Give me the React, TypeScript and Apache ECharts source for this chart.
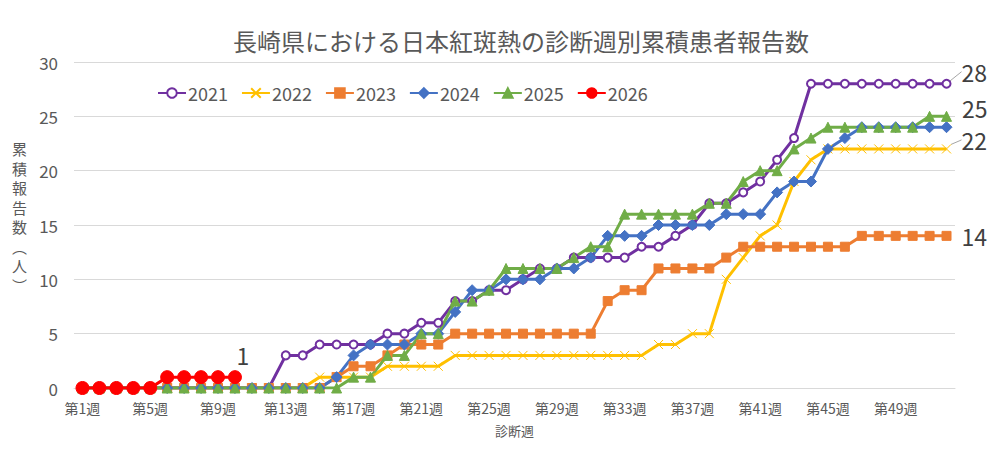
import React, { useEffect, useRef } from "react";
import * as echarts from "echarts";

const FONT = '"Noto Sans CJK JP", "Noto Sans", sans-serif';

const TITLE = "長崎県における日本紅斑熱の診断週別累積患者報告数";
const Y_NAME = "累\n積\n報\n告\n数\n︵\n人\n︶";
const X_NAME = "診断週";

const weeks: string[] = Array.from({ length: 52 }, (_, i) => `第${i + 1}週`);

const years = ["2021", "2022", "2023", "2024", "2025", "2026"];

const d2021 = [0, 0, 0, 0, 0, 0, 0, 0, 0, 0, 0, 0, 3, 3, 4, 4, 4, 4, 5, 5, 6, 6, 8, 8, 9, 9, 10, 11, 11, 12, 12, 12, 12, 13, 13, 14, 15, 17, 17, 18, 19, 21, 23, 28, 28, 28, 28, 28, 28, 28, 28, 28];
const d2022 = [0, 0, 0, 0, 0, 0, 0, 0, 0, 0, 0, 0, 0, 0, 1, 1, 1, 1, 2, 2, 2, 2, 3, 3, 3, 3, 3, 3, 3, 3, 3, 3, 3, 3, 4, 4, 5, 5, 10, 12, 14, 15, 19, 21, 22, 22, 22, 22, 22, 22, 22, 22];
const d2023 = [0, 0, 0, 0, 0, 0, 0, 0, 0, 0, 0, 0, 0, 0, 0, 1, 2, 2, 3, 4, 4, 4, 5, 5, 5, 5, 5, 5, 5, 5, 5, 8, 9, 9, 11, 11, 11, 11, 12, 13, 13, 13, 13, 13, 13, 13, 14, 14, 14, 14, 14, 14];
const d2024 = [0, 0, 0, 0, 0, 0, 0, 0, 0, 0, 0, 0, 0, 0, 0, 1, 3, 4, 4, 4, 5, 5, 7, 9, 9, 10, 10, 10, 11, 11, 12, 14, 14, 14, 15, 15, 15, 15, 16, 16, 16, 18, 19, 19, 22, 23, 24, 24, 24, 24, 24, 24];
const d2025 = [0, 0, 0, 0, 0, 0, 0, 0, 0, 0, 0, 0, 0, 0, 0, 0, 1, 1, 3, 3, 5, 5, 8, 8, 9, 11, 11, 11, 11, 12, 13, 13, 16, 16, 16, 16, 16, 17, 17, 19, 20, 20, 22, 23, 24, 24, 24, 24, 24, 24, 25, 25];
const d2026 = [0, 0, 0, 0, 0, 1, 1, 1, 1, 1];

const colors = ["#7030A0", "#FFC000", "#ED7D31", "#4472C4", "#70AD47", "#FF0000"];

const LABEL_COLOR = "#404040";

function buildData(values: number[], labelCfg: any) {
  return values.map((v, i) => {
    if (labelCfg && i === values.length - 1) {
      return {
        value: v,
        label: {
          show: true,
          color: LABEL_COLOR,
          fontFamily: FONT,
          fontSize: 23,
          ...labelCfg,
        },
      };
    }
    return v;
  });
}

function mkSeries(
  idx: number,
  values: number[],
  symbol: string,
  symbolSize: number,
  labelCfg: any,
  extra: any = {}
) {
  const color = colors[idx];
  return {
    name: years[idx],
    type: "line",
    data: buildData(values, labelCfg),
    symbol,
    symbolSize,
    showAllSymbol: true,
    lineStyle: { color, width: 3 },
    itemStyle: { color, borderColor: color, borderWidth: 1 },
    emphasis: { disabled: true },
    ...extra,
  };
}

const option: any = {
  animation: false,
  backgroundColor: "#ffffff",
  textStyle: { fontFamily: FONT },
  title: {
    text: TITLE,
    left: 228,
    top: 23,
    textStyle: { fontFamily: FONT, fontSize: 24, fontWeight: "normal", color: "#595959" },
  },
  legend: {
    top: 79,
    left: 152,
    itemWidth: 28,
    itemHeight: 12,
    itemGap: 13,
    textStyle: { fontFamily: FONT, fontSize: 18, color: "#595959", padding: [0, 0, 0, -3] },
    data: years,
  },
  grid: { left: 74, right: 35, top: 62, bottom: 66 },
  xAxis: {
    type: "category",
    data: weeks,
    boundaryGap: true,
    name: X_NAME,
    nameLocation: "middle",
    nameGap: 36,
    nameTextStyle: { fontFamily: FONT, fontSize: 13, color: "#595959" },
    axisLine: { show: true, lineStyle: { color: "#d9d9d9", width: 1 } },
    axisTick: { show: false },
    axisLabel: { interval: 3, fontFamily: FONT, fontSize: 14, color: "#595959", margin: 13 },
  },
  yAxis: {
    type: "value",
    min: 0,
    max: 30,
    interval: 5,
    axisLine: { show: false },
    axisTick: { show: false },
    axisLabel: { fontFamily: FONT, fontSize: 17, color: "#595959", margin: 16 },
    splitLine: { lineStyle: { color: "#d9d9d9", width: 1 } },
  },
  graphic: [
    {
      type: "text",
      left: 12,
      top: 139,
      style: {
        text: Y_NAME,
        fontFamily: FONT,
        fontSize: 15,
        lineHeight: 19.5,
        fill: "#595959",
        align: "center",
      },
    },
  ],
  series: [
    mkSeries(0, d2021, "emptyCircle", 8, { position: "right", distance: 10 }, {
      labelLayout: { dy: -12 },
      labelLine: { show: true, lineStyle: { color: "#a6a6a6", width: 1 } },
    }),
    mkSeries(1, d2022, "path://M0,0L10,10M10,0L0,10", 9, { position: "right", distance: 10 }, {
      labelLayout: { dy: -9 },
      labelLine: { show: true, lineStyle: { color: "#a6a6a6", width: 1 } },
    }),
    mkSeries(2, d2023, "rect", 9, { position: "right", distance: 10 }),
    mkSeries(3, d2024, "diamond", 11, null),
    mkSeries(4, d2025, "triangle", 10, { position: "right", distance: 10, offset: [0, -8] }),
    mkSeries(5, d2026, "circle", 13, { position: "top", distance: 4, offset: [8, 0] }),
  ],
};

export default function App() {
  const ref = useRef<HTMLDivElement>(null);
  useEffect(() => {
    if (!ref.current) return;
    const chart = echarts.init(ref.current, null, { renderer: "svg" });
    chart.setOption(option);
    return () => {
      chart.dispose();
    };
  }, []);
  return (
    <div
      ref={ref}
      style={{ position: "fixed", left: 0, top: 0, width: 990, height: 454, background: "#fff" }}
    />
  );
}
